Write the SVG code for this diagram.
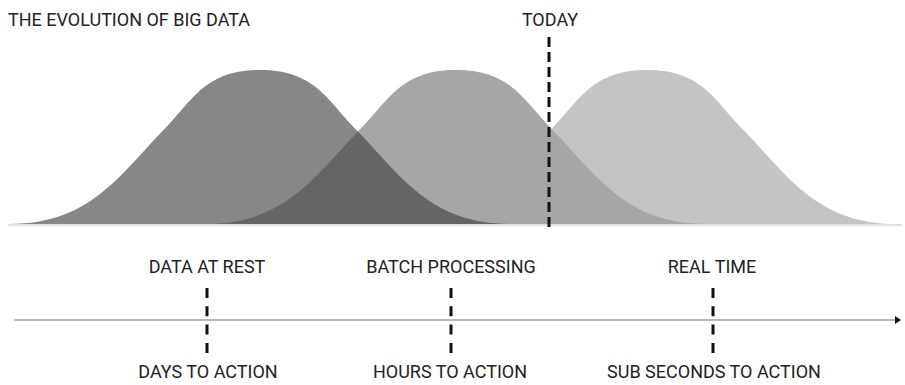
<svg xmlns="http://www.w3.org/2000/svg" width="905" height="385" viewBox="0 0 905 385">
  <style>
    .lbl { font-family: Roboto, "Liberation Sans", sans-serif; font-size: 18px; fill: #222; }
    .mid { text-anchor: middle; }
    .dash { stroke: #111; stroke-width: 3; fill: none; }
  </style>
  <defs>
    <path id="bell" d="M -250,224 C -170,224 -140,174.8 -97,130.6 C -67,100 -55,70 0,70 C 55,70 67,100 97,130.6 C 140,174.8 170,224 250,224 Z"/>
    <marker id="arrow" viewBox="0 0 6 8" refX="5" refY="4" markerWidth="6" markerHeight="8" markerUnits="userSpaceOnUse" orient="auto">
      <path d="M0,0 L6,4 L0,8 Z" fill="#111"/>
    </marker>
  </defs>
  <rect width="905" height="385" fill="#fff"/>

  <g id="bell-real-time"><use href="#bell" transform="translate(647,0)" fill="#9c9c9c" fill-opacity="0.6"/></g>
  <g id="bell-batch"><use href="#bell" transform="translate(456,0)" fill="#a6a6a6"/></g>
  <g id="bell-rest"><use href="#bell" transform="translate(260,0)" fill="#3e3e3e" fill-opacity="0.62"/></g>

  <g id="connectors">
    <line x1="8" y1="225" x2="902" y2="225" stroke="#d4d4d4" stroke-width="1.5"/>
    <line class="dash" x1="549" y1="37" x2="549" y2="227" stroke-dasharray="10 5"/>
    <line x1="14" y1="320" x2="900" y2="320" stroke="#b8b8b8" stroke-width="2" marker-end="url(#arrow)"/>
    <line class="dash" x1="207" y1="288" x2="207" y2="353" stroke-dasharray="10 8.3"/>
    <line class="dash" x1="451" y1="288" x2="451" y2="353" stroke-dasharray="10 8.3"/>
    <line class="dash" x1="713" y1="288" x2="713" y2="353" stroke-dasharray="10 8.3"/>
  </g>

  <g id="title"><text class="lbl" x="8" y="26" font-size="18.5">THE EVOLUTION OF BIG DATA</text></g>
  <g id="today"><text class="lbl mid" x="550" y="26">TODAY</text></g>

  <g id="data-at-rest">
    <text class="lbl mid" x="207" y="273">DATA AT REST</text>
    <text class="lbl mid" x="208" y="378">DAYS TO ACTION</text>
  </g>
  <g id="batch-processing">
    <text class="lbl mid" x="451" y="273">BATCH PROCESSING</text>
    <text class="lbl mid" x="450" y="378">HOURS TO ACTION</text>
  </g>
  <g id="real-time">
    <text class="lbl mid" x="712" y="273">REAL TIME</text>
    <text class="lbl mid" x="714" y="378">SUB SECONDS TO ACTION</text>
  </g>
</svg>
